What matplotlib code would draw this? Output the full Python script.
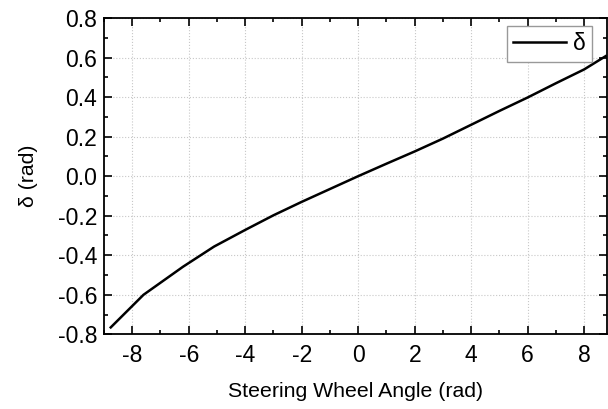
import matplotlib.pyplot as plt
from matplotlib.ticker import MultipleLocator

plt.rcParams['font.family'] = ['Liberation Sans', 'DejaVu Sans']
plt.rcParams['axes.unicode_minus'] = False

# steering wheel angle (rad) vs. front wheel angle delta (rad)
swa = [-8.76, -7.6, -6.2, -5.1, -4.0, -3.0, -2.0, -1.0, 0.0,
       1.0, 2.0, 3.0, 4.0, 5.0, 6.0, 7.0, 8.0, 8.76]
delta = [-0.765, -0.60, -0.458, -0.356, -0.272, -0.198, -0.13, -0.065, 0.0,
         0.063, 0.125, 0.19, 0.26, 0.33, 0.398, 0.47, 0.54, 0.607]

fig = plt.figure(figsize=(6.08, 4.09), dpi=100)
ax = fig.add_axes([0.171, 0.1826, 0.827, 0.7734])

ax.plot(swa, delta, color='black', lw=1.8, label='δ')

ax.set_xlim(-9, 8.8)
ax.set_ylim(-0.8, 0.8)
ax.xaxis.set_major_locator(MultipleLocator(2))
ax.xaxis.set_minor_locator(MultipleLocator(1))
ax.yaxis.set_major_locator(MultipleLocator(0.2))
ax.yaxis.set_minor_locator(MultipleLocator(0.1))
ax.yaxis.set_major_formatter(plt.FuncFormatter(lambda v, p: f'{v:.1f}'))

ax.tick_params(which='both', direction='in', top=True, right=True, width=1.2)
ax.tick_params(which='major', length=6, labelsize=16.5)
ax.tick_params(axis='x', which='major', pad=7)
ax.tick_params(axis='y', which='major', pad=5)
ax.tick_params(which='minor', length=3)
for s in ax.spines.values():
    s.set_linewidth(1.3)

ax.grid(True, which='major', linestyle=':', color='#c8c8c8', lw=0.8)

ax.set_xlabel('Steering Wheel Angle (rad)', fontsize=15.3, labelpad=11)
ax.set_ylabel('δ (rad)', fontsize=15.3, labelpad=14)

leg = ax.legend(loc='upper right', bbox_to_anchor=(0.970, 0.975), borderaxespad=0,
                fontsize=16.5, handlelength=2.3, fancybox=False,
                framealpha=1, edgecolor='#999999',
                handletextpad=0.3, borderpad=0.28)

fig.savefig('out.png', dpi=100)
